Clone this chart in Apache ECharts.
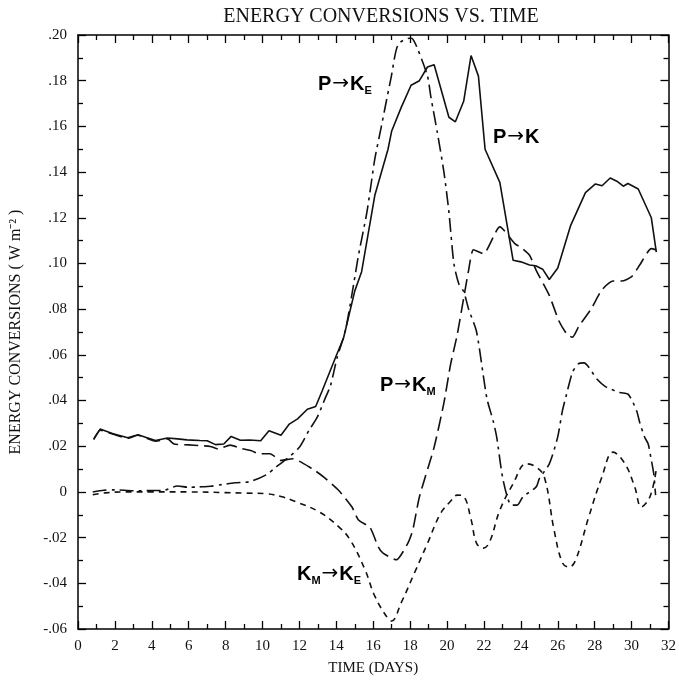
<!DOCTYPE html>
<html>
<head>
<meta charset="utf-8">
<script src="https://cdn.jsdelivr.net/npm/echarts@6/dist/echarts.min.js"></script>
<style>
  html, body { margin: 0; background: #fff; }
  #chart { width: 679px; height: 681px; }
</style>
</head>
<body>
<div id="chart"></div>
<script>
// P -> K (solid)
const pkDays = [0.85, 1.2, 1.9, 2.7, 3.25, 3.7, 4.2, 4.85, 5.4, 5.9, 6.6, 7.0, 7.45, 7.9, 8.3, 8.8, 9.3, 9.9, 10.35, 11.0,
  11.45, 11.9, 12.43, 12.88, 13.23, 13.95, 14.39, 15.0, 15.37, 16.09, 16.8, 17.0, 17.5, 18.05, 18.5, 18.94, 19.3, 20.1, 20.45, 20.9,
  21.3, 21.7, 22.06, 22.86, 23.58, 24.0, 24.47, 24.8, 25.18, 25.54, 26.0, 26.7, 27.5, 28.04, 28.4, 28.84, 29.2, 29.55, 29.8, 30.36,
  31.07, 31.34];
const pkVals = [0.023, 0.0275, 0.0255, 0.0237, 0.025, 0.0238, 0.0225, 0.0236, 0.0232, 0.0228, 0.0225, 0.0224, 0.0207, 0.021, 0.0243, 0.0226, 0.0227, 0.0224, 0.0268, 0.0248,
  0.0297, 0.032, 0.0362, 0.0374, 0.0442, 0.0587, 0.0674, 0.088, 0.0964, 0.130, 0.150, 0.158, 0.168, 0.178, 0.180, 0.186, 0.187, 0.164, 0.162, 0.171,
  0.191, 0.182, 0.150, 0.1355, 0.1014, 0.1007, 0.0993, 0.099, 0.0975, 0.093, 0.098, 0.1167, 0.131, 0.1348, 0.134, 0.1374, 0.136, 0.1338, 0.135, 0.1326,
  0.120, 0.105];

// P -> K_M (long dash)
const pkmDays = [0.85, 1.2, 1.9, 2.7, 3.25, 4.2, 4.85, 5.2, 6.0, 6.54, 7.17, 7.6, 8.24, 8.86, 9.4, 9.84, 10.4, 11.0, 11.63, 12.7,
  13.32, 14.12, 14.84, 15.2, 15.82, 16.27, 16.53, 17.25, 17.87, 18.14, 18.5, 19.3, 19.83, 20.19, 20.55, 21.17, 21.43, 21.97, 22.86, 23.67,
  24.0, 24.47, 24.83, 25.54, 26.07, 26.5, 26.79, 27.14, 27.8, 28.39, 29.0, 29.46, 30.0, 30.44, 31.07, 31.34];
const pkmVals = [0.023, 0.027, 0.0253, 0.0235, 0.0248, 0.0222, 0.0232, 0.021, 0.0206, 0.0203, 0.0199, 0.0188, 0.0205, 0.019, 0.018, 0.0167, 0.0167, 0.0138, 0.0145, 0.0101,
  0.0065, 0.0007, -0.0065, -0.0123, -0.0155, -0.024, -0.0268, -0.0297, -0.0225, -0.0167, -0.0022, 0.0196, 0.039, 0.0558, 0.0688, 0.0971, 0.106, 0.1043, 0.116, 0.1087,
  0.107, 0.1036, 0.097, 0.086, 0.0747, 0.069, 0.0677, 0.0725, 0.080, 0.0884, 0.0923, 0.0923, 0.0942, 0.0993, 0.1065, 0.106];

// P -> K_E (dash-dot)
const pkeDays = [0.8, 1.4, 2.0, 3.0, 4.0, 4.67, 5.39, 6.0, 6.54, 7.2, 7.8, 8.5, 9.31, 10.2, 10.74, 11.27, 11.98, 12.52, 12.96, 13.41,
  13.68, 14.04, 14.48, 14.84, 15.2, 15.64, 15.91, 16.09, 16.44, 16.62, 16.98, 17.34, 17.96, 18.1, 18.4, 18.94, 19.12, 19.48, 19.83, 20.1,
  20.37, 20.64, 20.9, 21.17, 21.6, 22.15, 22.5, 22.69, 23.04, 23.49, 23.8, 24.11, 24.83, 25.0, 25.54, 25.99, 26.25, 26.43, 26.79, 27.1,
  27.41, 28.13, 28.6, 29.37, 29.82, 30.27, 30.44, 30.71, 30.9, 31.04, 31.2, 31.3];
const pkeVals = [0.0, 0.0007, 0.0009, 0.0005, 0.0006, 0.0007, 0.0026, 0.002, 0.0022, 0.0025, 0.0032, 0.004, 0.0045, 0.0075, 0.0109, 0.0142, 0.0194, 0.027, 0.0326, 0.0413,
  0.0464, 0.0587, 0.0703, 0.0862, 0.1036, 0.1217, 0.1362, 0.146, 0.160, 0.1674, 0.1819, 0.1957, 0.1986, 0.1985, 0.194, 0.182, 0.173, 0.157, 0.140, 0.1225,
  0.100, 0.091, 0.0877, 0.080, 0.070, 0.0413, 0.031, 0.024, 0.0051, -0.0058, -0.0058, -0.0022, 0.0022, 0.0058, 0.0123, 0.0239, 0.0355, 0.0413, 0.0522, 0.056,
  0.0565, 0.0493, 0.046, 0.0435, 0.0427, 0.0355, 0.0304, 0.0239, 0.021, 0.0152, 0.008, -0.0014];

// K_M -> K_E (short dash)
const kmkeDays = [0.8, 1.5, 2.5, 4.0, 6.0, 8.0, 9.0, 10.2, 11.0, 11.8, 13.06, 14.12, 14.75, 15.55, 16.09, 16.8, 17.0, 17.51, 18.23, 18.94,
  19.65, 20.2, 20.55, 20.9, 21.3, 21.6, 21.97, 22.3, 22.86, 23.58, 24.29, 24.8, 25.27, 25.8, 26.25, 26.61, 26.96, 27.68, 28.39, 29.0,
  29.64, 30.17, 30.53, 31.0, 31.34];
const kmkeVals = [-0.0012, -0.0004, 0.0, 0.0, 0.0, -0.0003, -0.0005, -0.0008, -0.002, -0.0043, -0.0087, -0.0152, -0.021, -0.034, -0.0457, -0.0555, -0.0565, -0.0486, -0.0355, -0.0225,
  -0.0094, -0.004, -0.0014, -0.002, -0.012, -0.0225, -0.0246, -0.022, -0.008, 0.0036, 0.0123, 0.011, 0.0065, -0.0167, -0.031, -0.0329, -0.030, -0.0109, 0.0065, 0.0174,
  0.0123, 0.0022, -0.0065, -0.002, 0.0101];

const zip = (xs, ys) => xs.map((x, i) => [x, ys[i]]);

const serif = 'Liberation Serif, Times New Roman, serif';
const ink = '#111';

// .20 / 0 / -.02 style labels
const fmtY = v => {
  if (Math.abs(v) < 1e-9) return '0';
  const s = Math.abs(v).toFixed(2).replace(/^0/, '');
  return v < 0 ? '-' + s : s;
};

const frameAxis = {
  axisLine: { show: true, onZero: false, lineStyle: { color: '#000', width: 1.5 } },
  axisTick: { show: true, inside: true, length: 8, lineStyle: { color: '#000', width: 1.3 } },
  minorTick: { show: true, splitNumber: 2, length: 5, lineStyle: { color: '#000', width: 1.3 } },
  splitLine: { show: false },
  minorSplitLine: { show: false }
};

const labelRich = {
  m: { fontFamily: 'Liberation Sans, Arial, sans-serif', fontWeight: 'bold', fontSize: 20, lineHeight: 24, color: ink },
  s: { fontFamily: 'Liberation Sans, Arial, sans-serif', fontWeight: 'bold', fontSize: 11, lineHeight: 8, verticalAlign: 'bottom', color: ink },
  a: { fontFamily: 'DejaVu Sans', fontSize: 20, lineHeight: 24, padding: [0, 1, 0, 1], color: ink }
};

const curveLabels = [
  { text: '{m|P}{a|→}{m|K}{s|E}', x: 318, y: 84 },
  { text: '{m|P}{a|→}{m|K}', x: 493, y: 137 },
  { text: '{m|P}{a|→}{m|K}{s|M}', x: 380, y: 385 },
  { text: '{m|K}{s|M}{a|→}{m|K}{s|E}', x: 297, y: 574 }
];

const myChart = echarts.init(document.getElementById('chart'), null, { renderer: 'canvas' });

const option = {
  backgroundColor: '#fff',
  animation: false,
  title: {
    text: 'ENERGY CONVERSIONS VS. TIME',
    left: 376,
    top: 2,
    textAlign: 'center',
    textStyle: { fontFamily: serif, fontWeight: 'normal', fontSize: 20, color: ink }
  },
  grid: { left: 76, right: 5, top: 35, bottom: 48, containLabel: false },
  xAxis: [
    {
      type: 'value', position: 'bottom', min: 0, max: 32, interval: 2,
      name: 'TIME (DAYS)', nameLocation: 'middle', nameGap: 32,
      nameTextStyle: { fontFamily: serif, fontSize: 15, color: ink },
      axisLabel: { fontFamily: serif, fontSize: 15, color: ink, margin: 10 },
      ...frameAxis
    },
    {
      type: 'value', position: 'top', min: 0, max: 32, interval: 2,
      axisLabel: { show: false },
      ...frameAxis
    }
  ],
  yAxis: [
    {
      type: 'value', position: 'left', min: -0.06, max: 0.20, interval: 0.02,
      name: 'ENERGY CONVERSIONS ( W m⁻² )', nameLocation: 'middle', nameGap: 54, nameRotate: 90,
      nameTextStyle: { fontFamily: serif, fontSize: 16, color: ink },
      axisLabel: { fontFamily: serif, fontSize: 15, color: ink, margin: 11, formatter: fmtY },
      ...frameAxis
    },
    {
      type: 'value', position: 'right', min: -0.06, max: 0.20, interval: 0.02,
      axisLabel: { show: false },
      ...frameAxis
    }
  ],
  series: [
    {
      name: 'P→K', type: 'line', data: zip(pkDays, pkVals), showSymbol: false,
      lineStyle: { color: ink, width: 1.6, type: 'solid' }
    },
    {
      name: 'P→KM', type: 'line', data: zip(pkmDays, pkmVals), showSymbol: false, smooth: 0.2,
      lineStyle: { color: ink, width: 1.6, type: [14, 6] }
    },
    {
      name: 'P→KE', type: 'line', data: zip(pkeDays, pkeVals), showSymbol: false, smooth: 0.25,
      lineStyle: { color: ink, width: 1.6, type: [14, 5, 3, 5] }
    },
    {
      name: 'KM→KE', type: 'line', data: zip(kmkeDays, kmkeVals), showSymbol: false, smooth: 0.4,
      lineStyle: { color: ink, width: 1.6, type: [6, 5] }
    }
  ],
  graphic: curveLabels.map(l => ({
    type: 'text', x: l.x, y: l.y, z: 100,
    style: { text: l.text, rich: labelRich, align: 'left', verticalAlign: 'middle' }
  }))
};

myChart.setOption(option);
</script>
</body>
</html>
